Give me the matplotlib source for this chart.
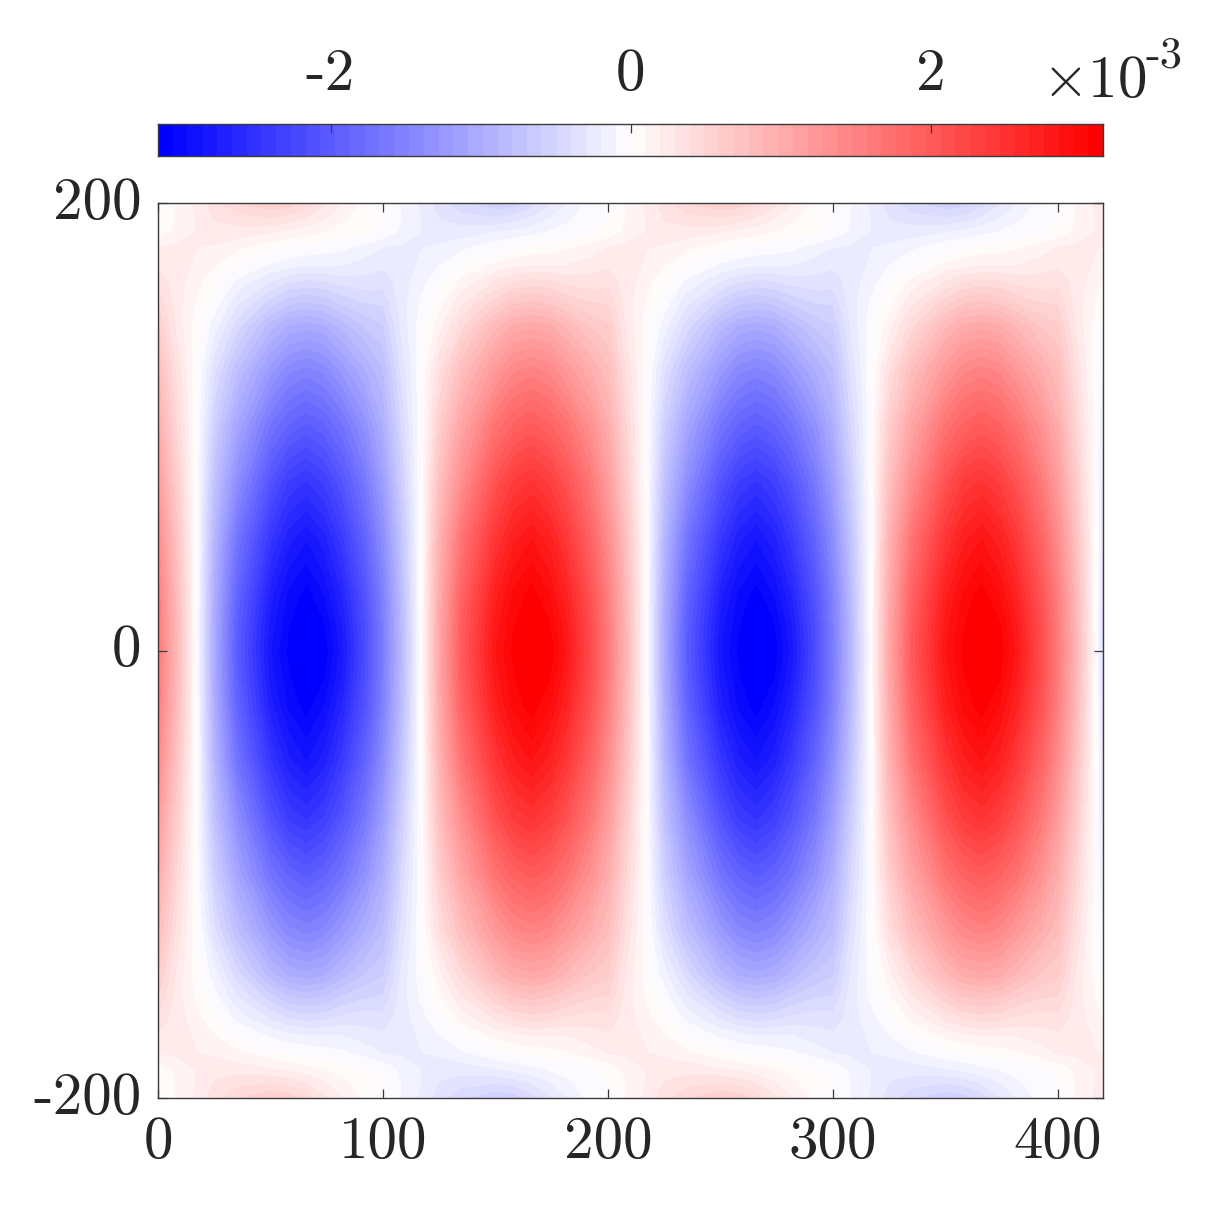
"""Blue/white/red field with a colorbar on top."""

import numpy as np
from matplotlib import pyplot as plt
from matplotlib.colors import LinearSegmentedColormap
from matplotlib.transforms import ScaledTranslation

plt.rcParams["font.family"] = ["cmr10", "DejaVu Sans"]
plt.rcParams["mathtext.fontset"] = "cm"
plt.rcParams["axes.unicode_minus"] = False

# values in units of 1e-3
# columns of one half wave; the next half wave has the opposite sign
half_x = [0, 8, 17, 25, 35, 50, 58, 66, 74, 82, 92]
half_offsets = [0, 100, 200, 300, 400]
half_signs = [1, -1, 1, -1, 1]

# distance from the mid line, the lower half mirrors the upper one
rows_y = [0, 12, 25, 50, 75, 100, 125, 145, 155, 165, 172, 180, 187, 193, 200]
row_0 = [1.60, 0.90, 0.00, -1.05, -1.98, -2.85, -3.08, -3.22, -3.12, -2.80, -2.20]
row_12 = [1.58, 0.88, 0.00, -1.03, -1.95, -2.80, -3.04, -3.17, -3.06, -2.75, -2.17]
row_25 = [1.55, 0.85, 0.00, -1.00, -1.88, -2.72, -2.98, -3.10, -2.95, -2.65, -2.10]
row_50 = [1.40, 0.75, 0.00, -0.90, -1.68, -2.45, -2.72, -2.85, -2.70, -2.40, -1.90]
row_75 = [1.20, 0.62, 0.00, -0.75, -1.38, -2.10, -2.38, -2.48, -2.35, -2.08, -1.65]
row_100 = [1.00, 0.50, 0.00, -0.58, -1.10, -1.70, -1.90, -2.00, -1.90, -1.70, -1.35]
row_125 = [0.80, 0.38, 0.02, -0.38, -0.78, -1.25, -1.45, -1.52, -1.45, -1.25, -1.00]
row_145 = [0.60, 0.28, 0.04, -0.15, -0.45, -0.85, -1.00, -1.05, -1.00, -0.85, -0.68]
row_155 = [0.48, 0.25, 0.08, -0.05, -0.28, -0.55, -0.68, -0.72, -0.68, -0.58, -0.50]
row_165 = [0.35, 0.25, 0.14, 0.02, -0.12, -0.30, -0.38, -0.42, -0.40, -0.35, -0.33]
row_172 = [0.28, 0.25, 0.18, 0.10, 0.00, -0.12, -0.17, -0.20, -0.20, -0.20, -0.25]
row_180 = [0.20, 0.22, 0.20, 0.18, 0.12, 0.03, 0.00, -0.03, -0.05, -0.08, -0.14]
row_187 = [0.03, 0.12, 0.20, 0.25, 0.25, 0.20, 0.17, 0.13, 0.09, 0.05, 0.02]
row_193 = [0.00, 0.10, 0.20, 0.30, 0.35, 0.38, 0.35, 0.28, 0.20, 0.12, 0.03]
row_200 = [0.03, 0.10, 0.22, 0.35, 0.48, 0.58, 0.55, 0.45, 0.32, 0.20, 0.06]

color_limit = 3.15
x_ticks = [0, 100, 200, 300, 400]
y_ticks = [-200, 0, 200]
cbar_ticks = [-2, 0, 2]

half = np.array(
    [
        row_0, row_12, row_25, row_50, row_75, row_100, row_125, row_145,
        row_155, row_165, row_172, row_180, row_187, row_193, row_200,
    ]
)
upper = np.hstack([s * half for s in half_signs])
z = np.vstack([upper[:0:-1], upper])
x = np.concatenate([np.array(half_x) + o for o in half_offsets])
y = np.concatenate([-np.array(rows_y[:0:-1]), rows_y])

cmap = LinearSegmentedColormap.from_list("bwr64", ["#0000ff", "#ffffff", "#ff0000"], N=64)
ink = "#3a3a3a"
text_ink = "#262626"
size = 12.19
fsize = 42.5


def box(left, top, right, bottom):
    """Pixel box to figure fractions."""
    return [left / 1219, 1 - bottom / 1219, (right - left) / 1219, (bottom - top) / 1219]


fig = plt.figure(figsize=(size, size), dpi=100)
ax = fig.add_axes(box(158, 203, 1103, 1098))
levels = np.linspace(-color_limit, color_limit, 65)
cs = ax.contourf(x, y, z, levels=levels, cmap=cmap, extend="both", antialiased=False)
ax.set_xlim(0, 420)
ax.set_ylim(-200, 200)
ax.set_xticks(x_ticks, [str(t) for t in x_ticks])
ax.set_yticks(y_ticks, [str(t) for t in y_ticks])
ax.tick_params(axis="both", direction="in", top=True, right=True, length=6.5, width=0.9, color=ink,
               labelsize=fsize, labelcolor=text_ink)
ax.tick_params(axis="x", pad=13)
ax.tick_params(axis="y", pad=12)
# cmr10 sits low in its box, lift the y labels to the tick
lift = ScaledTranslation(0, 5 / 100, fig.dpi_scale_trans)
for t in ax.get_yticklabels():
    t.set_transform(t.get_transform() + lift)
for s in ax.spines.values():
    s.set_color(ink)
    s.set_linewidth(1.0)

cax = fig.add_axes(box(158, 124, 1103, 156))
cax.imshow(
    np.linspace(-color_limit, color_limit, 64)[None, :],
    cmap=cmap, vmin=-color_limit, vmax=color_limit, aspect="auto",
    extent=(-color_limit, color_limit, 0, 1),
)
cax.set_yticks([])
cax.set_xticks(cbar_ticks, [str(t) for t in cbar_ticks])
cax.tick_params(
    axis="x", direction="in", bottom=False, top=True, labelbottom=False, labeltop=True,
    length=6.5, width=0.9, color=ink, labelsize=fsize, labelcolor=text_ink, pad=16,
)
for s in cax.spines.values():
    s.set_color(ink)
    s.set_linewidth(1.0)

fig.text(1042 / 1219, 1 - 97 / 1219, r"$\times$10", fontsize=fsize, color=text_ink, ha="left", va="baseline")
fig.text(1146 / 1219, 1 - 67 / 1219, "-3", fontsize=32, color=text_ink, ha="left", va="baseline")

fig.savefig("out.png", dpi=100)
plt.close(fig)
